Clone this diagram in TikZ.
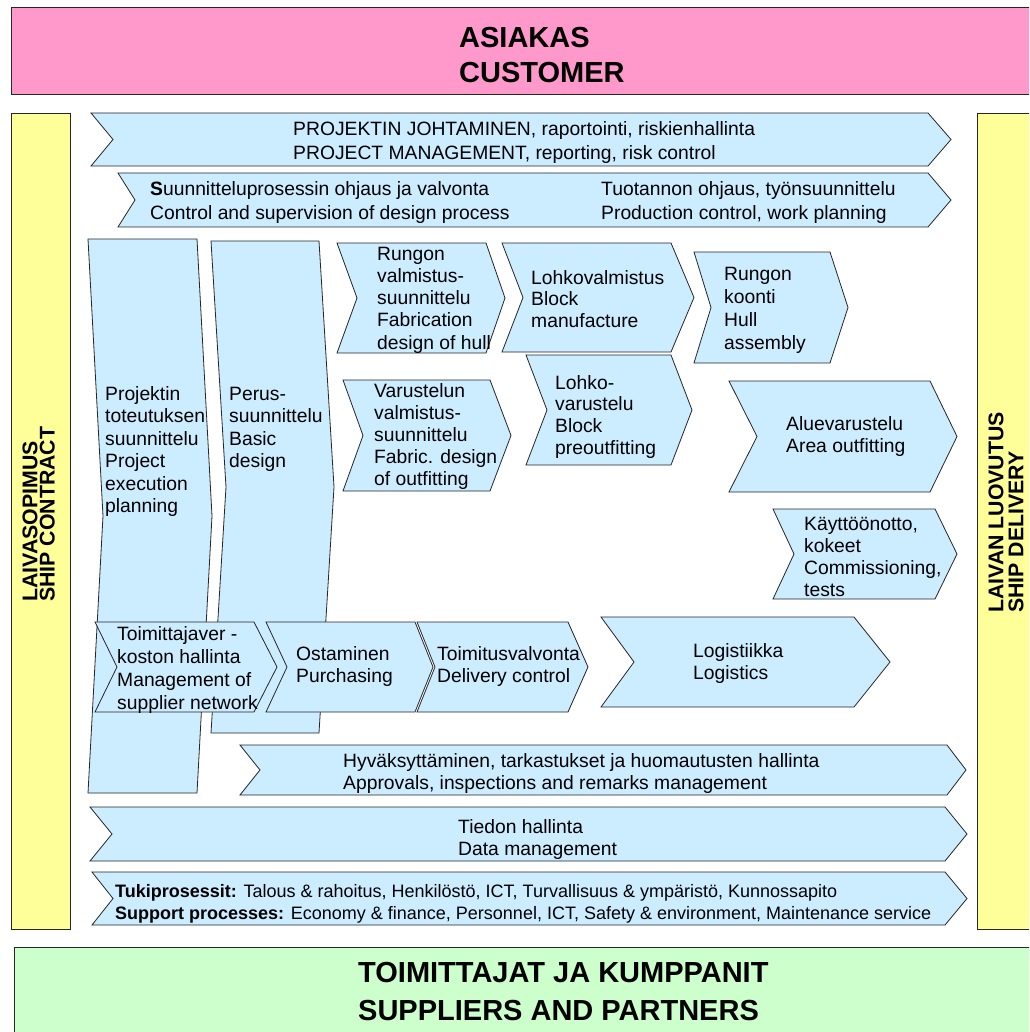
\documentclass[tikz,border=0pt]{standalone}
\usepackage{fontspec}
\setmainfont{Liberation Sans}
\definecolor{chevfill}{HTML}{CCECFF}
\definecolor{pinkbox}{HTML}{FF99CC}
\definecolor{yellowbox}{HTML}{FFFF99}
\definecolor{greenbox}{HTML}{CCFFCC}
\newcommand\normaltxt{\fontsize{19.3}{22.5}\selectfont}
\newcommand\blk[2]{\fontsize{19.3}{#1}\selectfont\begin{tabular}[t]{@{}l@{}}#2\end{tabular}}
\newcommand\bigblk[2]{\fontsize{29}{#1}\selectfont\bfseries\begin{tabular}[t]{@{}l@{}}#2\end{tabular}}
\tikzset{
  chev/.style={fill=chevfill, draw=black!85, line width=0.8pt, line join=miter},
  frame/.style={draw=black!85, line width=0.8pt},
  txt/.style={anchor=base west, inner sep=0pt, font=\normaltxt},
  vlab/.style={anchor=base west, inner sep=0pt, rotate=90, font=\fontsize{21.3}{21.3}\selectfont\bfseries},
}
% name, x1, y1, x2 (body right), y2, notch depth, tip depth
\newcommand\chevshape[7]{%
  \path[chev] (#2,#3) coordinate (#1-nw) -- (#4,#3) -- ({#4+#7},{(#3+#5)/2}) coordinate (#1-tip)
    -- (#4,#5) -- (#2,#5) -- ({#2+#6},{(#3+#5)/2}) coordinate (#1-notch) -- cycle;}
\begin{document}
\begin{tikzpicture}[x=1pt,y=-1pt]
\useasboundingbox (0,0) rectangle (1029,1032);
\clip (0,0) rectangle (1029,1032);
\fill[white] (0,0) rectangle (1029,1032);

% outer frames
\path[frame, fill=pinkbox] (11,7) rectangle (1040,94);
\path[frame, fill=yellowbox] (11,113) rectangle (70,929);
\path[frame, fill=yellowbox] (977,113) rectangle (1040,929);
\path[frame, fill=greenbox] (14,947) rectangle (1040,1045);

\node[txt] (customer) at (459,47.4) {\bigblk{35}{ASIAKAS\\CUSTOMER}};
\node[txt] (suppliers) at (358,982.4) {\bigblk{38}{TOIMITTAJAT JA KUMPPANIT\\SUPPLIERS AND PARTNERS}};

\node[vlab] (contract1) at (37.3,602) {LAIVASOPIMUS};
\node[vlab] (contract2) at (54.6,602) {SHIP CONTRACT};
\node[vlab] (delivery1) at (1003.3,613) {LAIVAN LUOVUTUS};
\node[vlab] (delivery2) at (1023.3,613) {SHIP DELIVERY};

% chevrons
\chevshape{pm}{91}{113}{928}{166}{22}{23}
\chevshape{ctrl}{118}{173}{928}{227}{17}{23}
\chevshape{colA}{88}{239}{197}{793}{15}{15}
\chevshape{colB}{211}{241}{319}{733}{15}{15}
\chevshape{rvs}{337}{243}{486}{353}{20}{19}
\chevshape{var}{343}{380}{490}{491}{20}{21}
\chevshape{lohko}{502}{243}{671}{352}{21}{23}
\chevshape{koonti}{694}{252}{830}{363}{17}{18}
\chevshape{lvar}{526}{355}{671}{465}{21}{21}
\chevshape{alue}{729}{381}{930}{492}{28}{27}
\chevshape{kaytto}{773}{509}{935}{599}{21}{22}
\chevshape{toim}{95}{622}{254}{712}{22}{23}
\chevshape{osta}{266}{622}{415}{712}{21}{18}
\chevshape{tval}{417}{622}{568}{712}{18}{20}
\chevshape{logi}{601}{617}{854}{707}{33}{36}
\chevshape{hyv}{240}{745}{947}{795}{20}{19}
\chevshape{tied}{90}{807}{945}{861}{22}{22}
\chevshape{tuki}{92}{872}{945}{925}{21}{22}

% texts
\node[txt] (pmT) at (293,136) {\blk{24}{PROJEKTIN JOHTAMINEN, raportointi, riskienhallinta\\PROJECT MANAGEMENT, reporting, risk control}};
\node[txt] (ctrlT) at (150,196) {\blk{24}{\textbf{S}uunnitteluprosessin ohjaus ja valvonta\\Control and supervision of design process}};
\node[txt] (prodT) at (601,196) {\blk{24}{Tuotannon ohjaus, työnsuunnittelu\\Production control, work planning}};
\node[txt] (colAT) at (105,400) {\blk{22.5}{Projektin\\toteutuksen\\suunnittelu\\Project\\execution\\planning}};
\node[txt] (colBT) at (229,400) {\blk{22.5}{Perus-\\suunnittelu\\Basic\\design}};
\node[txt] (rvsT) at (377,260) {\blk{22.3}{Rungon\\valmistus-\\suunnittelu\\Fabrication\\design of hull}};
\node[txt] (varT) at (374,397) {\blk{22}{Varustelun\\valmistus-\\suunnittelu\\Fabric. design\\of outfitting}};
\node[txt] (lohkoT) at (531,284) {\blk{21.7}{Lohkovalmistus\\Block\\manufacture}};
\node[txt] (koontiT) at (724,280) {\blk{23}{Rungon\\koonti\\Hull\\assembly}};
\node[txt] (lvarT) at (555,389) {\blk{21.7}{Lohko-\\varustelu\\Block\\preoutfitting}};
\node[txt] (alueT) at (786,430) {\blk{22}{Aluevarustelu\\Area outfitting}};
\node[txt] (kayttoT) at (804,530) {\blk{22.3}{Käyttöönotto,\\kokeet\\Commissioning,\\tests}};
\node[txt] (toimT) at (117,640) {\blk{23.3}{Toimittajaver -\\koston hallinta\\Management of\\supplier network}};
\node[txt] (ostaT) at (296,660) {\blk{22}{Ostaminen\\Purchasing}};
\node[txt] (tvalT) at (437,660) {\blk{22}{Toimitusvalvonta\\Delivery control}};
\node[txt] (logiT) at (693,657) {\blk{22}{Logistiikka\\Logistics}};
\node[txt] (hyvT) at (343,767) {\blk{22}{Hyväksyttäminen, tarkastukset ja huomautusten hallinta\\Approvals, inspections and remarks management}};
\node[txt] (tiedT) at (458,833) {\blk{22}{Tiedon hallinta\\Data management}};
\node[txt] (tukiT) at (115,897) {\fontsize{18}{22}\selectfont\begin{tabular}[t]{@{}l@{}}\textbf{Tukiprosessit:} Talous \& rahoitus, Henkilöstö, ICT, Turvallisuus \& ympäristö, Kunnossapito\\\textbf{Support processes:} Economy \& finance, Personnel, ICT, Safety \& environment, Maintenance service\end{tabular}};
\end{tikzpicture}
\end{document}
